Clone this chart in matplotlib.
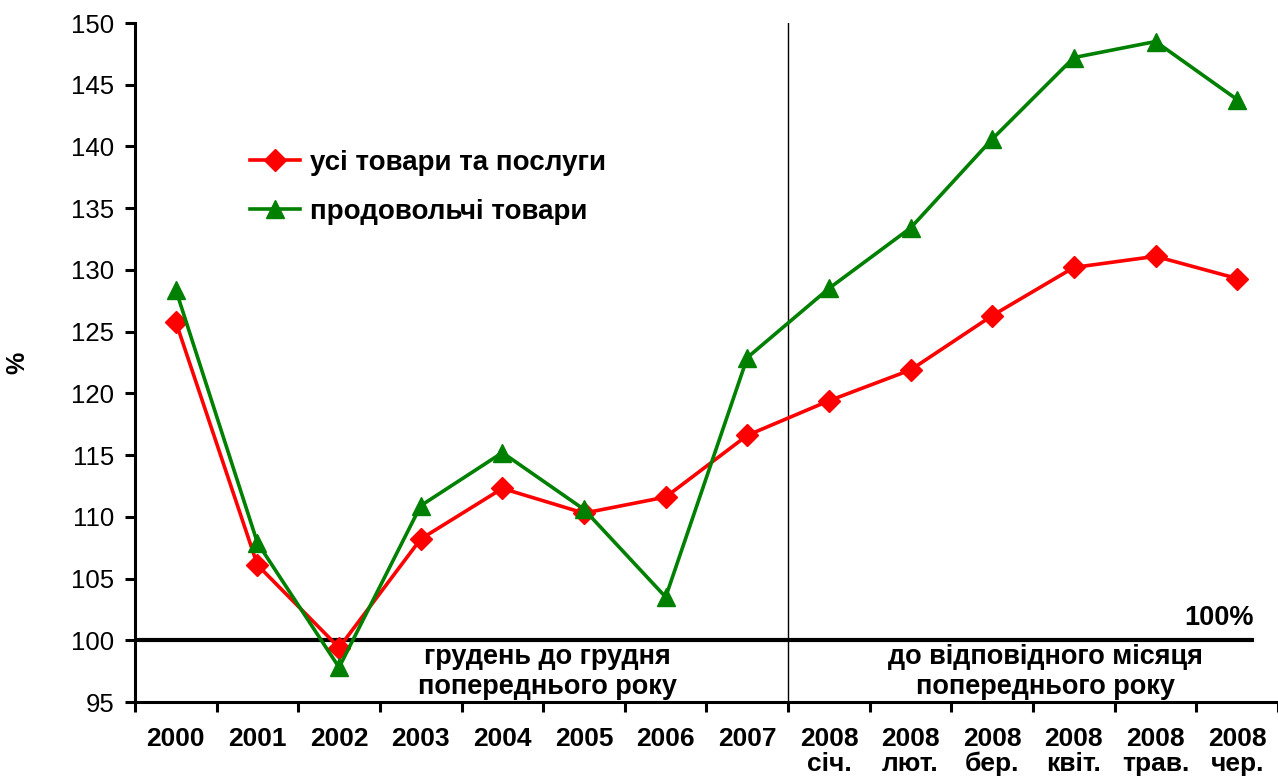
import matplotlib
matplotlib.use("Agg")
import matplotlib.pyplot as plt
from matplotlib.ticker import FixedLocator, MultipleLocator

plt.rcParams['font.family'] = ['Liberation Sans', 'DejaVu Sans']

categories = ["2000", "2001", "2002", "2003", "2004", "2005", "2006", "2007",
              "2008\nсіч.", "2008\nлют.", "2008\nбер.", "2008\nквіт.", "2008\nтрав.", "2008\nчер."]
all_goods = [125.8, 106.1, 99.4, 108.2, 112.3, 110.3, 111.6, 116.6,
             119.4, 121.9, 126.3, 130.2, 131.1, 129.3]
food = [128.4, 107.9, 97.8, 110.9, 115.2, 110.6, 103.5, 122.9,
        128.5, 133.4, 140.6, 147.2, 148.5, 143.8]
series_names = ["усі товари та послуги", "продовольчі товари"]

fig = plt.figure(figsize=(12.78, 7.8), dpi=100)
ax = fig.add_axes([0.1056, 0.1, 0.8944, 0.8705])

x = list(range(len(categories)))
ax.plot(x, all_goods, color='#ff0000', lw=2.6, marker='D', ms=11,
        label=series_names[0], zorder=4)
ax.plot(x, food, color='#008000', lw=2.6, marker='^', ms=13.5,
        label=series_names[1], zorder=5)

ax.set_xlim(-0.5, len(categories) - 0.5)
ax.set_ylim(95, 150)
ax.yaxis.set_major_locator(MultipleLocator(5))

# 100% baseline
ax.plot([-0.5, 13.2], [100, 100], color='black', lw=3, zorder=3, solid_capstyle='butt')
ax.text(13.2, 100.75, "100%", ha='right', va='bottom', fontsize=19.5, fontweight='bold')

# divider between annual and monthly data
ax.axvline(7.5, color='black', lw=1, zorder=2)

ax.text(4.55, 97.4, "грудень до грудня\nпопереднього року", ha='center', va='center',
        fontsize=19.5, fontweight='bold', linespacing=1.2)
ax.text(10.65, 97.4, "до відповідного місяця\nпопереднього року", ha='center', va='center',
        fontsize=19.5, fontweight='bold', linespacing=1.2)

# axes styling
for s in ['top', 'right']:
    ax.spines[s].set_visible(False)
for s in ['left', 'bottom']:
    ax.spines[s].set_linewidth(2.2)

ax.set_xticks(x)
ax.set_xticklabels(categories, fontsize=19, fontweight='bold', linespacing=1.05, va='top')
ax.tick_params(axis='x', which='major', length=0, pad=18)
ax.xaxis.set_minor_locator(FixedLocator([i - 0.5 for i in range(len(categories) + 1)]))
ax.tick_params(axis='x', which='minor', length=7, width=2.2, direction='out')
ax.tick_params(axis='y', which='major', length=7, width=2.2, direction='out', labelsize=18.5, pad=8)

ax.set_ylabel("%", fontsize=18, fontweight='bold', labelpad=30)

leg = ax.legend(loc='upper left', bbox_to_anchor=(0.091, 0.83), frameon=False,
                prop={'size': 20, 'weight': 'bold'}, handlelength=1.8,
                handletextpad=0.35, labelspacing=0.85, borderaxespad=0)

fig.savefig("out.png", dpi=100)
